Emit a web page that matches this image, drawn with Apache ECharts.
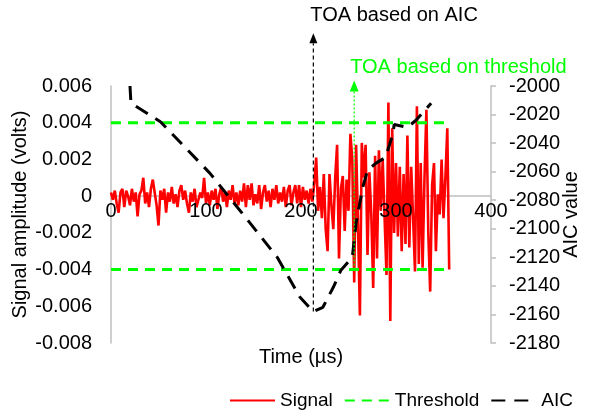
<!DOCTYPE html>
<html>
<head>
<meta charset="utf-8">
<script src="https://cdn.jsdelivr.net/npm/echarts@6/dist/echarts.min.js"></script>
<style>
  html, body { margin: 0; padding: 0; background: #fff; }
  #chart { width: 589px; height: 412px; }
</style>
</head>
<body>
<div id="chart"></div>
<script>
// Signal record: first sample time and sample step (µs), amplitudes in volts
const SIGNAL_T0 = 0;
const SIGNAL_DT = 2;
const signalValues = [
  0.0002, -0.0002, 0.0003, -0.0004, -0.0009, 0.0002, 0.0004, -0.0006, 0.0003, 0.0000,
  -0.0005, 0.0004, -0.0003, 0.0002, -0.0011, 0.0001, 0.0003, 0.0010, -0.0004, 0.0002,
  -0.0006, 0.0004, 0.0009, 0.0002, -0.0005, -0.0016, 0.0003, -0.0002, 0.0004, -0.0009,
  0.0002, -0.0003, 0.0005, -0.0004, 0.0001, -0.0006, 0.0003, 0.0006, -0.0002, 0.0003,
  -0.0004, -0.0009, 0.0002, -0.0003, 0.0004, -0.0006, -0.0007, 0.0002, -0.0001, 0.0010,
  -0.0004, 0.0002, -0.0005, 0.0003, -0.0002, 0.0004, -0.0007, 0.0001, 0.0005, -0.0003,
  0.0002, -0.0006, 0.0003, -0.0002, 0.0006, -0.0004, 0.0002, -0.0005, 0.0003, -0.0003,
  0.0007, -0.0006, 0.0006, -0.0002, 0.0007, -0.0005, 0.0001, -0.0004, 0.0006, -0.0007,
  0.0002, 0.0006, -0.0003, 0.0003, -0.0006, 0.0004, -0.0002, 0.0006, -0.0004, 0.0002,
  -0.0003, 0.0005, -0.0006, 0.0003, 0.0006, -0.0005, 0.0002, 0.0006, -0.0004, 0.0006,
  -0.0006, 0.0005, -0.0002, 0.0003, -0.0004, 0.0004, -0.0003, 0.0007, 0.0021, -0.0008,
  0.0005, -0.0012, 0.0012, -0.0018, -0.0030, 0.0012, -0.0005, -0.0018, 0.0010, 0.0028,
  -0.0034, 0.0004, 0.0011, -0.0019, 0.0009, -0.0008, 0.0034, 0.0020, -0.0047, 0.0028,
  -0.0015, -0.0065, 0.0029, 0.0010, 0.0028, -0.0032, 0.0013, -0.0010, -0.0050, 0.0022,
  -0.0034, 0.0025, -0.0008, 0.0020, -0.0012, -0.0043, 0.0051, -0.0068, 0.0037, -0.0020,
  0.0018, -0.0022, 0.0016, -0.0030, 0.0012, -0.0026, 0.0033, -0.0028, 0.0016, -0.0012,
  -0.0041, 0.0049, -0.0037, 0.0018, -0.0039, 0.0010, 0.0047, -0.0020, -0.0052, 0.0006,
  0.0018, -0.0030, 0.0001, -0.0010, 0.0020, -0.0012, 0.0010, 0.0037, -0.0040
];

// Detection threshold (± volts) and the time span it is drawn over (µs)
const THRESHOLD = 0.004;
const thresholdSpan = [0, 356];

// AIC curve
const aicTime  = [20, 21, 52, 104, 144, 175, 199, 213, 223, 234, 242, 254, 258, 265, 270, 279, 289, 297, 298, 312, 321, 337];
const aicValue = [-2000, -2012, -2025, -2061, -2094, -2120, -2148, -2158, -2155, -2141, -2129, -2120, -2096, -2071, -2059, -2054, -2050, -2033, -2027, -2029, -2024, -2012];

// Arrival-time picks (µs) and where their arrows end
const TOA_AIC = 213;
const TOA_AIC_ARROW_TOP = -1963;        // on the AIC axis
const TOA_THRESHOLD = 256;
const TOA_THRESHOLD_ARROW_TOP = 0.0063; // on the amplitude axis

// Axis ranges and ticks
const X_MIN = 0, X_MAX = 400, X_STEP = 100;
const xTickValues = [0, 100, 200, 300, 400];
const AMP_MIN = -0.008, AMP_MAX = 0.006, AMP_STEP = 0.002;
const AIC_MIN = -2180, AIC_MAX = -2000, AIC_STEP = 20;

const FONT = '"Liberation Sans", Arial, sans-serif';

const signalData = signalValues.map((v, i) => [SIGNAL_T0 + i * SIGNAL_DT, v]);
const thresholdData = [
  [thresholdSpan[0], THRESHOLD], [thresholdSpan[1], THRESHOLD], '-',
  [thresholdSpan[0], -THRESHOLD], [thresholdSpan[1], -THRESHOLD]
];
const aicData = aicTime.map((t, i) => [t, aicValue[i]]);

const chart = echarts.init(document.getElementById('chart'), null, { renderer: 'canvas' });

const axisGray = '#BFBFBF';
const labelStyle = { color: '#000', fontSize: 20, fontFamily: FONT };

chart.setOption({
  animation: false,
  backgroundColor: '#fff',
  textStyle: { fontFamily: FONT },
  grid: { left: 111, right: 98, top: 86, bottom: 69, containLabel: false, outerBoundsMode: 'none' },
  legend: {
    data: ['Signal', 'Threshold', 'AIC'],
    left: 224,
    top: 386,
    width: 380,
    itemWidth: 45,
    itemHeight: 14,
    itemGap: 11,
    itemStyle: { opacity: 0 },
    textStyle: { color: '#000', fontSize: 19, fontFamily: FONT }
  },
  xAxis: {
    type: 'value',
    min: X_MIN, max: X_MAX, interval: X_STEP,
    axisLine: { onZero: true, lineStyle: { color: axisGray, width: 1.5 } },
    axisTick: { show: false },
    axisLabel: { show: false },
    splitLine: { show: false }
  },
  yAxis: [
    {
      type: 'value',
      min: AMP_MIN, max: AMP_MAX, interval: AMP_STEP,
      name: 'Signal amplitude (volts)',
      nameLocation: 'middle',
      nameRotate: 90,
      nameGap: 81,
      nameMoveOverlap: false,
      nameTextStyle: labelStyle,
      axisLine: { show: true, onZero: false, lineStyle: { color: axisGray, width: 1.5 } },
      axisTick: { show: false },
      axisLabel: Object.assign({
        margin: 19,
        formatter: v => (Math.abs(v) < 1e-12 ? '0' : v.toFixed(3))
      }, labelStyle),
      splitLine: { show: false }
    },
    {
      type: 'value',
      position: 'right',
      min: AIC_MIN, max: AIC_MAX, interval: AIC_STEP,
      name: 'AIC value',
      nameLocation: 'middle',
      nameRotate: 90,
      nameGap: 70,
      nameMoveOverlap: false,
      nameTextStyle: labelStyle,
      axisLine: { show: true, onZero: false, lineStyle: { color: axisGray, width: 1.5 } },
      axisTick: { show: true, inside: false, length: 5, lineStyle: { color: axisGray, width: 1.5 } },
      axisLabel: Object.assign({ margin: 18, formatter: v => String(Math.round(v)) }, labelStyle),
      splitLine: { show: false }
    }
  ],
  series: [
    {
      name: 'Signal',
      type: 'line',
      data: signalData,
      showSymbol: false,
      symbol: 'none',
      clip: false,
      lineStyle: { color: '#FF0000', width: 2.6 },
      itemStyle: { color: '#FF0000' }
    },
    {
      name: 'Threshold',
      type: 'line',
      data: thresholdData,
      showSymbol: false,
      symbol: 'none',
      connectNulls: false,
      lineStyle: { color: '#00FF00', width: 3, type: [10, 7] },
      itemStyle: { color: '#00FF00' }
    },
    {
      name: 'AIC',
      type: 'line',
      yAxisIndex: 1,
      data: aicData,
      showSymbol: false,
      symbol: 'none',
      clip: false,
      lineStyle: { color: '#000', width: 3, type: [14, 9] },
      itemStyle: { color: '#000' }
    }
  ]
});

// Arrival-time arrows and their captions, placed through the axes' own scales
function arrow(x, yBottom, yTop, color, dash, width, headW, headH) {
  return [
    {
      type: 'line',
      shape: { x1: x, y1: yBottom, x2: x, y2: yTop + headH },
      style: { stroke: color, lineWidth: width, lineDash: dash },
      z: 100
    },
    {
      type: 'polygon',
      shape: { points: [[x, yTop], [x - headW / 2, yTop + headH], [x + headW / 2, yTop + headH]] },
      style: { fill: color },
      z: 100
    }
  ];
}

const toAmp = p => chart.convertToPixel({ xAxisIndex: 0, yAxisIndex: 0 }, p);
const toAic = p => chart.convertToPixel({ xAxisIndex: 0, yAxisIndex: 1 }, p);

const minAic = Math.min.apply(null, aicValue);
const aicBottom = toAic([TOA_AIC, minAic]);
const aicTop = toAic([TOA_AIC, TOA_AIC_ARROW_TOP]);
const thrBottom = toAmp([TOA_THRESHOLD, -THRESHOLD]);
const thrTop = toAmp([TOA_THRESHOLD, TOA_THRESHOLD_ARROW_TOP]);

// Time tick labels sit just under the zero line; the axis title under the plot
const xLabels = xTickValues.map(v => {
  const p = toAmp([v, 0]);
  return {
    type: 'text', x: p[0], y: p[1] + 5,
    style: { text: String(v), fill: '#000', font: '20px ' + FONT, textAlign: 'center', textVerticalAlign: 'top' },
    z: 50
  };
});
const plotBottomMid = toAmp([(X_MIN + X_MAX) / 2, AMP_MIN]);
const xTitle = {
  type: 'text', x: plotBottomMid[0], y: plotBottomMid[1] + 14,
  style: { text: 'Time (µs)', fill: '#000', font: '20px ' + FONT, textAlign: 'center', textVerticalAlign: 'middle' },
  z: 50
};

chart.setOption({
  graphic: []
    .concat(xLabels)
    .concat([xTitle])
    .concat(arrow(aicBottom[0], aicBottom[1], aicTop[1], '#000', [4, 3], 1.2, 8, 10))
    .concat(arrow(thrBottom[0], thrBottom[1], thrTop[1], '#00FF00', [2, 2], 1.2, 9, 11))
    .concat([
      {
        type: 'text',
        x: aicTop[0] - 3, y: aicTop[1] - 8,
        style: { text: 'TOA based on AIC', fill: '#000', font: '20px ' + FONT, textAlign: 'left', textVerticalAlign: 'bottom' },
        z: 100
      },
      {
        type: 'text',
        x: thrTop[0] - 4, y: thrTop[1] - 3,
        style: { text: 'TOA based on threshold', fill: '#00FF00', font: '20px ' + FONT, textAlign: 'left', textVerticalAlign: 'bottom' },
        z: 100
      }
    ])
});
</script>
</body>
</html>
